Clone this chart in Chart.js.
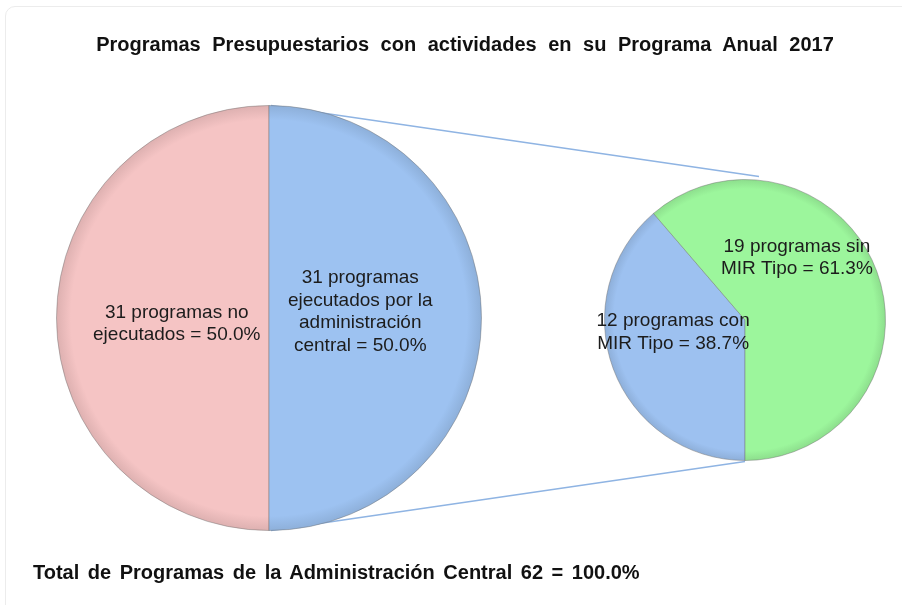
<!DOCTYPE html>
<html>
<head>
<meta charset="utf-8">
<script src="https://cdn.jsdelivr.net/npm/chart.js@4/dist/chart.umd.min.js"></script>
<style>
  html, body { margin: 0; padding: 0; background: #fff; }
  body { width: 902px; height: 605px; position: relative; overflow: hidden; font-family: "Liberation Sans", Arial, sans-serif; }
  .card { position: absolute; left: 5px; top: 6px; width: 930px; height: 640px; border: 1px solid #ececec; border-radius: 10px; }
  canvas { position: absolute; left: 0; top: 0; }
  .title { position: absolute; left: 0; width: 930px; top: 33px; text-align: center; font-weight: bold; font-size: 20px; word-spacing: 6px; color: #111; }
  .total { position: absolute; left: 33px; top: 561px; font-weight: bold; font-size: 20px; word-spacing: 3px; color: #111; }
</style>
</head>
<body>
<div class="card"></div>
<canvas id="mainPie" width="902" height="605"></canvas>
<canvas id="subPie" width="902" height="605"></canvas>
<div class="title">Programas Presupuestarios con actividades en su Programa Anual 2017</div>
<div class="total">Total de Programas de la Administración Central 62 = 100.0%</div>
<script>
// --- DATA ---
const mainLabels = [
    ['31 programas no', 'ejecutados = 50.0%'],
    ['31 programas', 'ejecutados por la', 'administración', 'central = 50.0%']
];
const mainValues = [31, 31];
const mainColors = ['#f5c4c4', '#9dc2f1'];

const subLabels = [
    ['12 programas con', 'MIR Tipo = 38.7%'],
    ['19 programas sin', 'MIR Tipo = 61.3%']
];
const subValues = [12, 19];
const subColors = ['#9dc1f0', '#9cf69c'];

// --- HELPERS ---
// soft rim shading so the slices look a bit like the bevelled original
function shaded(colors) {
    return function(ctx) {
        const base = colors[ctx.dataIndex];
        const chart = ctx.chart;
        const area = chart.chartArea;
        if (!area) return base;
        const cx = (area.left + area.right) / 2;
        const cy = (area.top + area.bottom) / 2;
        const r = Math.min(area.right - area.left, area.bottom - area.top) / 2;
        const g = chart.ctx.createRadialGradient(cx, cy, 0, cx, cy, r);
        g.addColorStop(0, base);
        g.addColorStop(0.93, base);
        g.addColorStop(1, shade(base, -0.1));
        return g;
    };
}

function shade(hex, amt) {
    const n = parseInt(hex.slice(1), 16);
    let r = (n >> 16) & 255, g = (n >> 8) & 255, b = n & 255;
    r = Math.round(Math.min(255, Math.max(0, r + r * amt)));
    g = Math.round(Math.min(255, Math.max(0, g + g * amt)));
    b = Math.round(Math.min(255, Math.max(0, b + b * amt)));
    return `rgb(${r},${g},${b})`;
}

// Slice labels drawn from each arc's own centre point
const sliceLabels = {
    id: 'sliceLabels',
    afterDatasetsDraw(chart, args, opts) {
        const ctx = chart.ctx;
        const meta = chart.getDatasetMeta(0);
        ctx.save();
        ctx.font = '19px "Liberation Sans", Arial, sans-serif';
        ctx.fillStyle = '#1c1c1c';
        ctx.textAlign = 'center';
        ctx.textBaseline = 'middle';
        meta.data.forEach((arc, i) => {
            const p = arc.tooltipPosition();
            const off = opts.offsets[i] || [0, 0];
            const lines = opts.labels[i];
            const lh = 22.5;
            const y0 = p.y + off[1] - (lines.length - 1) * lh / 2;
            lines.forEach((t, k) => ctx.fillText(t, p.x + off[0], y0 + k * lh));
        });
        ctx.restore();
    }
};

// --- SECONDARY PIE (top canvas) ---
const subChart = new Chart(document.getElementById('subPie'), {
    type: 'pie',
    data: {
        labels: subLabels.map(l => l.join(' ')),
        datasets: [{
            data: subValues,
            backgroundColor: shaded(subColors),
            borderColor: 'rgba(110,110,110,0.45)',
            borderWidth: 1
        }]
    },
    options: {
        responsive: false,
        animation: false,
        rotation: 180,
        layout: { padding: { left: 604, top: 179, right: 16, bottom: 144 } },
        plugins: {
            legend: { display: false },
            tooltip: { enabled: false },
            sliceLabels: { labels: subLabels, offsets: [[-6, -12], [-14, -38]] }
        }
    },
    plugins: [sliceLabels]
});

// connector lines from the main pie to the secondary pie, under both pies
const connectors = {
    id: 'connectors',
    beforeDatasetsDraw(chart) {
        const big = chart.getDatasetMeta(0).data[0];
        const small = subChart.getDatasetMeta(0).data[0];
        if (!big || !small) return;
        const ctx = chart.ctx;
        ctx.save();
        ctx.strokeStyle = '#8fb4e3';
        ctx.lineWidth = 1.5;
        ctx.beginPath();
        ctx.moveTo(big.x + 2, big.y - big.outerRadius);
        ctx.lineTo(small.x + 14, small.y - small.outerRadius - 3);
        ctx.moveTo(big.x + 2, big.y + big.outerRadius);
        ctx.lineTo(small.x, small.y + small.outerRadius + 1);
        ctx.stroke();
        ctx.restore();
    }
};

// --- MAIN PIE ---
new Chart(document.getElementById('mainPie'), {
    type: 'pie',
    data: {
        labels: mainLabels.map(l => l.join(' ')),
        datasets: [{
            data: mainValues,
            backgroundColor: shaded(mainColors),
            borderColor: 'rgba(110,110,110,0.45)',
            borderWidth: 1
        }]
    },
    options: {
        responsive: false,
        animation: false,
        rotation: 180,
        layout: { padding: { left: 56, top: 105, right: 420, bottom: 74 } },
        plugins: {
            legend: { display: false },
            tooltip: { enabled: false },
            sliceLabels: { labels: mainLabels, offsets: [[14, 6], [-15, -6]] }
        }
    },
    plugins: [connectors, sliceLabels]
});
</script>
</body>
</html>
